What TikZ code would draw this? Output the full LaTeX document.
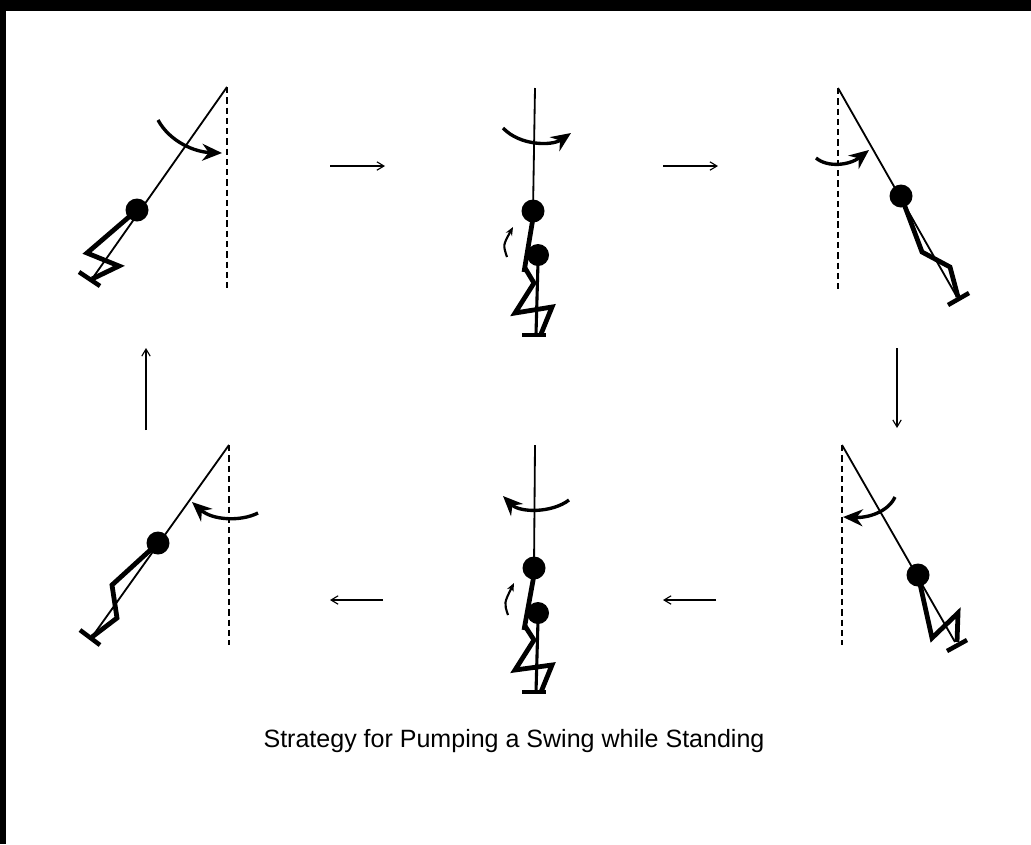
\documentclass[tikz,border=0pt]{standalone}
\usepackage{fontspec}
\setmainfont{Liberation Sans}
\usetikzlibrary{arrows.meta}

\begin{document}
\begin{tikzpicture}[x=0.025cm, y=-0.025cm,
		rope/.style={line width=1.3pt},
		vert/.style={line width=1.5pt, dash pattern=on 4.5pt off 2.8pt},
		legs/.style={line width=3.4pt, line join=miter},
		foot/.style={line width=3.2pt},
		turn/.style={line width=2.4pt, -{Stealth[length=14pt,width=12pt]}},
		lift/.style={line width=1.5pt, -{Stealth[length=6pt,width=5pt]}},
		next/.style={line width=0.8pt, -{Straight Barb[length=5pt,width=6pt]}}]
		\useasboundingbox (0,0) rectangle (1031,844);
		
		% Frame
		\fill (0,0) rectangle (1031,11);
		\fill (0,0) rectangle (6,844);
		
		% Swing, back position
		\coordinate (p1) at (227,87);
		\draw[vert] (p1) -- (227,290);
		\draw[rope] (p1) -- (92,279);
		\fill (137,210) circle[radius=11.5];
		\draw[legs] (137,210) -- (87,253) -- (119,266) -- (92,279);
		\draw[foot] (79,272) -- (100,286);
		\draw[turn] (158,120) .. controls (170,142) and (195,152) .. (222,153);
		
		% Swing, bottom, standing up
		\coordinate (p2) at (535,88);
		\draw[rope] (p2) -- (533,211);
		\fill (533,211) circle[radius=11.5];
		\fill (538,255) circle[radius=11];
		\draw[legs] (533,218) -- (524,272);
		\draw[legs] (525,268) -- (534,283) -- (515,313) -- (552,307) -- (541,334);
		\draw[legs, line width=2.2pt] (538,262) -- (536,334);
		\draw[foot] (522,335) -- (546,335);
		\draw[lift] (507,257) .. controls (503,245) .. (513,227);
		\draw[turn] (503,128) .. controls (520,146) and (552,146) .. (571,133);
		
		% Swing, front position
		\coordinate (p3) at (838,88);
		\draw[vert] (p3) -- (838,290);
		\draw[rope] (p3) -- (957,297);
		\fill (901,196) circle[radius=11.5];
		\draw[legs] (901,196) -- (922,252) -- (950,267) -- (958,297);
		\draw[foot] (948,305) -- (969,293);
		\draw[turn] (816,158) .. controls (828,168) and (850,165) .. (869,150);
		
		% Swing, front position, crouched
		\coordinate (p6) at (842,445);
		\draw[vert] (p6) -- (842,645);
		\draw[rope] (p6) -- (955,642);
		\fill (918,575) circle[radius=11.5];
		\draw[legs] (918,575) -- (932,638) -- (958,613) -- (957,642);
		\draw[foot] (947,651) -- (967,640);
		\draw[turn] (895,497) .. controls (888,512) and (868,518) .. (843,517);
		
		% Swing, bottom, standing up again
		\coordinate (p5) at (535,445);
		\draw[rope] (p5) -- (534,568);
		\fill (534,568) circle[radius=11.5];
		\fill (538,613) circle[radius=11];
		\draw[legs] (534,575) -- (524,630);
		\draw[legs] (525,626) -- (534,640) -- (515,670) -- (552,665) -- (541,692);
		\draw[legs, line width=2.2pt] (538,620) -- (536,692);
		\draw[foot] (522,692) -- (546,692);
		\draw[lift] (508,615) .. controls (504,603) .. (514,583);
		\draw[turn] (569,500) .. controls (552,513) and (520,513) .. (503,496);
		
		% Swing, back position, standing
		\coordinate (p4) at (229,445);
		\draw[vert] (p4) -- (229,645);
		\draw[rope] (p4) -- (92,637);
		\fill (158,543) circle[radius=11.5];
		\draw[legs] (158,543) -- (112,585) -- (117,618) -- (92,637);
		\draw[foot] (80,630) -- (100,645);
		\draw[turn] (258,513) .. controls (240,522) and (212,520) .. (192,502);
		
		% Sequence arrows
		\coordinate (a1) at (330,166);
		\coordinate (b1) at (385,166);
		\coordinate (a2) at (663,166);
		\coordinate (b2) at (718,166);
		\coordinate (a3) at (897,348);
		\coordinate (b3) at (897,428);
		\coordinate (a4) at (716,600);
		\coordinate (b4) at (663,600);
		\coordinate (a5) at (383,600);
		\coordinate (b5) at (330,600);
		\coordinate (a6) at (146,430);
		\coordinate (b6) at (146,348);
		\draw[next] (a1) -- (b1);
		\draw[next] (a2) -- (b2);
		\draw[next] (a3) -- (b3);
		\draw[next] (a4) -- (b4);
		\draw[next] (a5) -- (b5);
		\draw[next] (a6) -- (b6);
		
		% Caption
		\node[font=\fontsize{17.8}{21}\selectfont] (caption) at (514,741) {Strategy for Pumping a Swing while Standing};
	\end{tikzpicture}
\end{document}
